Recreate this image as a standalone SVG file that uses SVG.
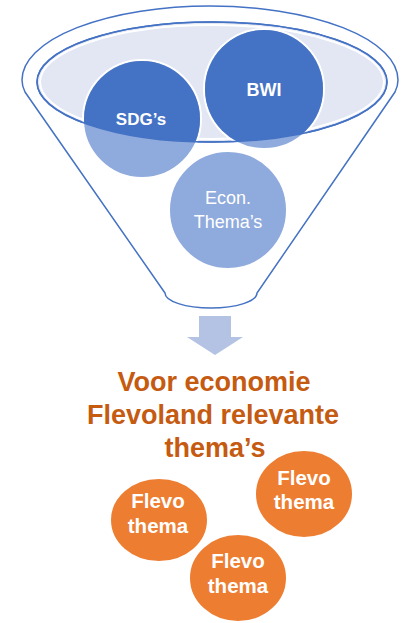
<svg xmlns="http://www.w3.org/2000/svg" width="402" height="623" viewBox="0 0 402 623">
  <style>
    .funnel { fill: #FFFFFF; stroke: #4472C4; stroke-width: 1.5; }
    .lightc { fill: #8FAADC; stroke: #FFFFFF; stroke-width: 2; }
    .darkc { fill: #4472C4; }
    .orange { fill: #ED7D31; stroke: #FFFFFF; stroke-width: 2; }
    .wb { font-family: "Liberation Sans", Arial, sans-serif; font-weight: bold; fill: #FFFFFF; text-anchor: middle; }
    .wr { font-family: "Liberation Sans", Arial, sans-serif; fill: #FFFFFF; text-anchor: middle; font-size: 18px; }
    .title { font-family: "Liberation Sans", Arial, sans-serif; font-weight: bold; fill: #C55A11; text-anchor: middle; font-size: 27px; }
  </style>
  <defs>
    <clipPath id="inner">
      <ellipse cx="212" cy="82" rx="175" ry="60"/>
    </clipPath>
  </defs>

  <g id="funnel">
    <path class="funnel" d="M 165 293 L 25 92 Q 22 86 22 80 A 188 74 0 0 1 398 80 Q 398 86 395 92 L 257 293 A 46 15 0 0 1 165 293 Z"/>
    <ellipse cx="212" cy="82" rx="175" ry="60" fill="#E3E7F3" stroke="#4472C4" stroke-width="1.5"/>
    <ellipse cx="212" cy="82" rx="172" ry="57" fill="none" stroke="#FFFFFF" stroke-width="2"/>
  </g>

  <g id="sdgs">
    <circle class="lightc" cx="142" cy="119" r="59"/>
    <circle class="darkc" cx="142" cy="119" r="58" clip-path="url(#inner)"/>
  </g>
  <g id="bwi">
    <circle class="lightc" cx="264" cy="89" r="60"/>
    <circle class="darkc" cx="264" cy="89" r="59" clip-path="url(#inner)"/>
  </g>
  <ellipse cx="212" cy="82" rx="175" ry="60" fill="none" stroke="#4472C4" stroke-width="1.5"/>
  <text class="wb" x="141" y="125" font-size="17">SDG’s</text>
  <text class="wb" x="264" y="96" font-size="18">BWI</text>

  <g id="econ">
    <circle class="lightc" cx="228" cy="210" r="59"/>
    <text class="wr" x="228" y="204">Econ.</text>
    <text class="wr" x="228" y="228">Thema’s</text>
  </g>

  <g id="connectors">
    <path d="M 199 316 L 231 316 L 231 337 L 243 337 L 215 355 L 187 337 L 199 337 Z" fill="#B4C2E4"/>
  </g>

  <g id="title">
    <text class="title" x="214" y="391">Voor economie</text>
    <text class="title" x="213" y="424">Flevoland relevante</text>
    <text class="title" x="215" y="457">thema’s</text>
  </g>

  <g id="flevo1">
    <ellipse class="orange" cx="159" cy="520" rx="49" ry="42"/>
    <text class="wb" x="158" y="508" font-size="20.5">Flevo</text>
    <text class="wb" x="158" y="533" font-size="20.5">thema</text>
  </g>
  <g id="flevo3">
    <ellipse class="orange" cx="304" cy="494" rx="49" ry="44"/>
    <text class="wb" x="304" y="485" font-size="20.5">Flevo</text>
    <text class="wb" x="304" y="509" font-size="20.5">thema</text>
  </g>
  <g id="flevo2">
    <ellipse class="orange" cx="238" cy="578" rx="49" ry="44"/>
    <text class="wb" x="238" y="568" font-size="20.5">Flevo</text>
    <text class="wb" x="238" y="593" font-size="20.5">thema</text>
  </g>
</svg>
